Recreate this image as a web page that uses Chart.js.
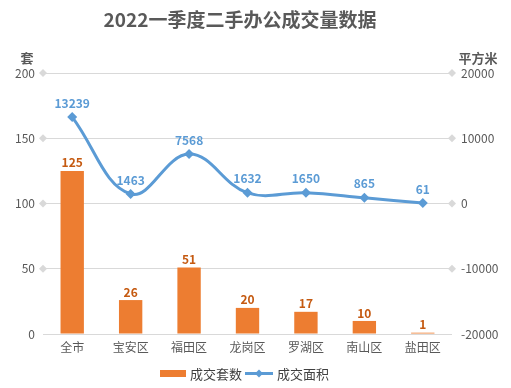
<!DOCTYPE html>
<html>
<head>
<meta charset="utf-8">
<script src="https://cdn.jsdelivr.net/npm/chart.js@4/dist/chart.umd.min.js"></script>
<style>
  html, body { margin: 0; padding: 0; background: #fff; }
  #wrap { width: 511px; height: 388px; }
</style>
</head>
<body>
<div id="wrap"><canvas id="officeChart" width="511" height="388"></canvas></div>
<script>
// Data
const districts = ["全市", "宝安区", "福田区", "龙岗区", "罗湖区", "南山区", "盐田区"];
const dealUnits = [125, 26, 51, 20, 17, 10, 1];
const dealArea = [13239, 1463, 7568, 1632, 1650, 865, 61];
const unitTicks = [0, 50, 100, 150, 200];
const areaTicks = [-20000, -10000, 0, 10000, 20000];

const FONT = '"Microsoft YaHei", "Noto Sans CJK SC", sans-serif';
const ORANGE = "#ed7d31";
const ORANGE_DARK = "#c55a11";
const BLUE = "#5b9bd5";
const GREY_TEXT = "#595959";
const GRID = "#d9d9d9";

function diamond(ctx, x, y, r, color) {
  ctx.beginPath();
  ctx.moveTo(x, y - r);
  ctx.lineTo(x + r, y);
  ctx.lineTo(x, y + r);
  ctx.lineTo(x - r, y);
  ctx.closePath();
  ctx.fillStyle = color;
  ctx.fill();
}

// Title, unit captions and the small diamonds at the grid ends
const framePlugin = {
  id: "frame",
  beforeDatasetsDraw(chart) {
    const ctx = chart.ctx;
    const area = chart.chartArea;
    const yScale = chart.scales.y;
    ctx.save();
    yScale.ticks.forEach((tick, i) => {
      if (i === 0) return;
      const py = yScale.getPixelForTick(i);
      diamond(ctx, area.left, py, 4, GRID);
      diamond(ctx, area.right, py, 4, GRID);
    });
    ctx.restore();
  },
  afterDraw(chart) {
    const ctx = chart.ctx;
    ctx.save();
    ctx.textAlign = "center";
    ctx.textBaseline = "middle";
    ctx.fillStyle = GREY_TEXT;
    ctx.font = "bold 19px " + FONT;
    ctx.fillText("2022一季度二手办公成交量数据", 240, 20);
    ctx.font = "bold 13px " + FONT;
    ctx.fillText("套", 27, 58);
    ctx.fillText("平方米", 478, 58);

    // legend
    ctx.font = "13px " + FONT;
    ctx.textAlign = "left";
    ctx.fillStyle = ORANGE;
    ctx.fillRect(160, 370, 26, 7);
    ctx.fillStyle = "#404040";
    ctx.fillText("成交套数", 190, 374);
    ctx.strokeStyle = BLUE;
    ctx.lineWidth = 3;
    ctx.beginPath();
    ctx.moveTo(245, 373.5);
    ctx.lineTo(273, 373.5);
    ctx.stroke();
    diamond(ctx, 259, 373.5, 4, BLUE);
    ctx.fillStyle = "#404040";
    ctx.fillText("成交面积", 277, 374);
    ctx.restore();
  }
};

// Value labels above bars and line points
const valueLabels = {
  id: "valueLabels",
  afterDatasetsDraw(chart) {
    const ctx = chart.ctx;
    ctx.save();
    ctx.font = "bold 12px " + FONT;
    ctx.textAlign = "center";
    ctx.textBaseline = "bottom";
    chart.getDatasetMeta(0).data.forEach((bar, i) => {
      ctx.fillStyle = ORANGE_DARK;
      ctx.fillText(String(dealUnits[i]), bar.x, bar.y - 2);
    });
    chart.getDatasetMeta(1).data.forEach((pt, i) => {
      ctx.fillStyle = BLUE;
      ctx.fillText(String(dealArea[i]), pt.x, pt.y - 8);
    });
    ctx.restore();
  }
};

new Chart(document.getElementById("officeChart"), {
  data: {
    labels: districts,
    datasets: [
      {
        type: "bar",
        label: "成交套数",
        data: dealUnits,
        yAxisID: "y",
        backgroundColor: ORANGE,
        categoryPercentage: 1,
        barPercentage: 0.4,
        minBarLength: 1,
        order: 2
      },
      {
        type: "line",
        label: "成交面积",
        data: dealArea,
        yAxisID: "y2",
        borderColor: BLUE,
        backgroundColor: BLUE,
        borderWidth: 3,
        tension: 0.4,
        pointStyle: "rectRot",
        pointRadius: 5,
        pointBorderWidth: 0,
        fill: false,
        order: 1
      }
    ]
  },
  options: {
    responsive: false,
    animation: false,
    layout: { padding: { top: 73, left: 0, right: 0, bottom: 0 } },
    plugins: {
      legend: { display: false },
      title: { display: false },
      tooltip: { enabled: false }
    },
    scales: {
      x: {
        grid: { display: false, drawTicks: false },
        border: { display: false },
        ticks: { color: GREY_TEXT, font: { family: FONT, size: 12 }, padding: 6 },
        afterFit(scale) { scale.height = 54; }
      },
      y: {
        position: "left",
        min: unitTicks[0],
        max: unitTicks[unitTicks.length - 1],
        afterBuildTicks(scale) { scale.ticks = unitTicks.map((v) => ({ value: v })); },
        grid: { color: GRID, lineWidth: 1, drawTicks: false },
        border: { display: false },
        ticks: { color: GREY_TEXT, font: { family: FONT, size: 12 }, padding: 8, callback: (v) => String(v) },
        afterFit(scale) { scale.width = 43; }
      },
      y2: {
        position: "right",
        min: areaTicks[0],
        max: areaTicks[areaTicks.length - 1],
        afterBuildTicks(scale) { scale.ticks = areaTicks.map((v) => ({ value: v })); },
        grid: { display: false, drawTicks: false },
        border: { display: false },
        ticks: { color: GREY_TEXT, font: { family: FONT, size: 12 }, padding: 9, callback: (v) => String(v) },
        afterFit(scale) { scale.width = 59; }
      }
    }
  },
  plugins: [framePlugin, valueLabels]
});
</script>
</body>
</html>
